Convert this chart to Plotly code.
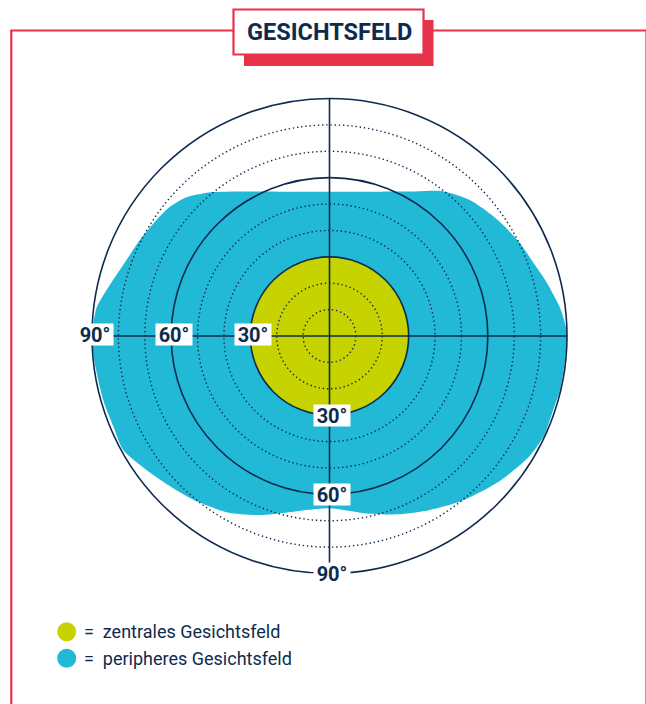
import numpy as np
import plotly.graph_objects as go

# ---------------- data ----------------
ring_degrees = [10, 20, 30, 40, 50, 60, 70, 80, 90]
solid_rings = [30, 60, 90]
axis_label_degrees = [30, 60, 90]
central_field_radius = 30

# peripheral visual field: meridian angle (deg, 0 = right, counter-clockwise) and extent (deg)
peripheral_meridian = [0, 3, 7, 14, 20, 26, 31, 37, 44, 52, 60, 75, 90, 105, 120, 130, 136,
                       141, 146, 153, 159, 167, 173, 177, 180, 186, 196, 203, 209, 220, 230,
                       240, 249, 254, 270, 281, 291, 300, 309, 319, 329, 335, 342, 347, 354, 360]
peripheral_extent = [90.1, 89.4, 88.0, 84.7, 82.0, 80.3, 78.6, 76.6, 74.1, 69.6, 63.2, 56.6,
                     54.7, 56.6, 63.2, 71.0, 75.6, 77.8, 78.9, 80.5, 82.0, 85.5, 88.9, 89.6,
                     90.1, 89.6, 89.1, 88.8, 89.3, 84.3, 80.8, 77.2, 72.7, 70.0, 65.3, 68.4,
                     72.4, 76.1, 80.2, 84.5, 88.4, 89.6, 89.3, 89.7, 89.7, 90.1]

title_text = "GESICHTSFELD"
legend_labels = ["zentrales Gesichtsfeld", "peripheres Gesichtsfeld"]

# ---------------- style ----------------
W, H = 646, 704
NAVY = "#0E2B4E"
BLUE = "#21B9D6"
GREEN = "#C6D300"
RED = "#E6334A"
FONT = "Roboto, Lato, sans-serif"

CX, CY, SCALE = 329.5, 336.0, 2.639  # centre pixel and pixels per degree


def px(x):
    return x / W


def py(y):
    return 1 - y / H


theta = np.radians(peripheral_meridian)
r = np.array(peripheral_extent)
bx = r * np.cos(theta)
by = r * np.sin(theta)

fig = go.Figure()
fig.add_trace(go.Scatter(x=bx, y=by, mode="lines", fill="toself", fillcolor=BLUE,
                         line=dict(width=0, color=BLUE, shape="spline", smoothing=0.7),
                         hoverinfo="skip", showlegend=False))

shapes = []
# central field
cr = central_field_radius
shapes.append(dict(type="circle", xref="x", yref="y", x0=-cr, y0=-cr, x1=cr, y1=cr,
                   fillcolor=GREEN, line=dict(width=0), layer="above"))
# rings
for d in ring_degrees:
    if d in solid_rings:
        ln = dict(color=NAVY, width=1.6)
    else:
        ln = dict(color=NAVY, width=1.4, dash="1.4px,2.8px")
    shapes.append(dict(type="circle", xref="x", yref="y", x0=-d, y0=-d, x1=d, y1=d,
                       line=ln, fillcolor="rgba(0,0,0,0)", layer="above"))
rmax = max(ring_degrees)
shapes.append(dict(type="line", xref="x", yref="y", x0=-rmax, x1=rmax, y0=0, y1=0,
                   line=dict(color=NAVY, width=1.6), layer="above"))
shapes.append(dict(type="line", xref="x", yref="y", x0=0, x1=0, y0=-rmax, y1=rmax,
                   line=dict(color=NAVY, width=1.6), layer="above"))

# frame
shapes.append(dict(type="line", xref="paper", yref="paper", x0=px(10.3), x1=px(W), y0=py(30.5), y1=py(30.5),
                   line=dict(color=RED, width=2.2), layer="above"))
shapes.append(dict(type="line", xref="paper", yref="paper", x0=px(11.3), x1=px(11.3), y0=py(30.5), y1=py(H),
                   line=dict(color=RED, width=2.2), layer="above"))
shapes.append(dict(type="line", xref="paper", yref="paper", x0=px(646), x1=px(646), y0=py(30.5), y1=py(H),
                   line=dict(color=RED, width=1.2), layer="above"))
# title box
shapes.append(dict(type="rect", xref="paper", yref="paper", x0=px(244), x1=px(433.5), y0=py(20), y1=py(66),
                   fillcolor=RED, line=dict(width=0), layer="above"))
shapes.append(dict(type="rect", xref="paper", yref="paper", x0=px(233.5), x1=px(423.5), y0=py(9.5), y1=py(54.5),
                   fillcolor="white", line=dict(color=RED, width=2.2), layer="above"))

# legend dots
legend_colors = [GREEN, BLUE]
legend_y = [631.7, 658.3]
for c, yy in zip(legend_colors, legend_y):
    shapes.append(dict(type="circle", xref="paper", yref="paper", xsizemode="pixel", ysizemode="pixel",
                       xanchor=px(66.7), yanchor=py(yy), x0=-9.5, x1=9.5, y0=-9.5, y1=9.5,
                       fillcolor=c, line=dict(width=0), layer="above"))

annotations = []
annotations.append(dict(xref="paper", yref="paper", x=px(329), y=py(31.7), text=title_text,
                        showarrow=False, xanchor="center", yanchor="middle",
                        font=dict(family=FONT, size=23.5, color=NAVY, weight=700)))
for lab, yy in zip(legend_labels, legend_y):
    annotations.append(dict(xref="paper", yref="paper", x=px(82), y=py(yy), text="=  " + lab,
                            showarrow=False, xanchor="left", yanchor="middle",
                            font=dict(family=FONT, size=18, color=NAVY)))
lab_font = dict(family=FONT, size=20, color=NAVY, weight=700)
for d in axis_label_degrees:
    annotations.append(dict(xref="x", yref="y", x=-(d - 1.1), y=0.6, text=f"{d}°", showarrow=False,
                            bgcolor="white", width=36, height=21, borderpad=0,
                            xanchor="center", yanchor="middle", font=lab_font))
    annotations.append(dict(xref="x", yref="y", x=0.8, y=-d, text=f"{d}°", showarrow=False,
                            bgcolor="white", width=36, height=21, borderpad=0,
                            xanchor="center", yanchor="middle", font=lab_font))

fig.update_layout(
    width=W, height=H, margin=dict(l=0, r=0, t=0, b=0),
    paper_bgcolor="white", plot_bgcolor="white",
    xaxis=dict(range=[-CX / SCALE, (W - CX) / SCALE], visible=False, fixedrange=True),
    yaxis=dict(range=[-(H - CY) / SCALE, CY / SCALE], visible=False, fixedrange=True),
    shapes=shapes, annotations=annotations, showlegend=False,
)
fig.write_html("out.html", config={"displayModeBar": False},
               post_script="document.body.style.margin='0px';document.body.style.overflow='hidden';")
